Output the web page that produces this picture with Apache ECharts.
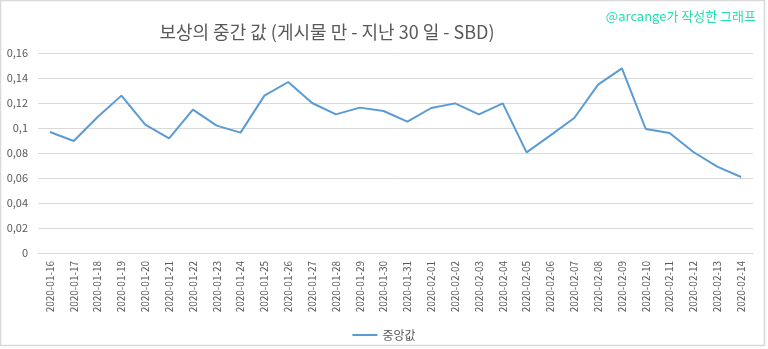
<!DOCTYPE html>
<html>
<head>
<meta charset="utf-8">
<script src="https://cdn.jsdelivr.net/npm/echarts@6/dist/echarts.min.js"></script>
<style>
  html, body { margin: 0; padding: 0; background: #ffffff; }
  #chart { width: 768px; height: 349px; }
</style>
</head>
<body>
<div id="chart"></div>
<script>
// Daily dates (x axis categories)
const dates = [
  '2020-01-16','2020-01-17','2020-01-18','2020-01-19','2020-01-20','2020-01-21',
  '2020-01-22','2020-01-23','2020-01-24','2020-01-25','2020-01-26','2020-01-27',
  '2020-01-28','2020-01-29','2020-01-30','2020-01-31','2020-02-01','2020-02-02',
  '2020-02-03','2020-02-04','2020-02-05','2020-02-06','2020-02-07','2020-02-08',
  '2020-02-09','2020-02-10','2020-02-11','2020-02-12','2020-02-13','2020-02-14'
];

// Median reward per day (SBD)
const medianValues = [
  0.0968, 0.0896, 0.1088, 0.1259, 0.1027, 0.0917,
  0.1147, 0.1019, 0.0963, 0.1259, 0.1368, 0.1200,
  0.1109, 0.1163, 0.1136, 0.1051, 0.1160, 0.1197,
  0.1109, 0.1197, 0.0805, 0.0941, 0.1080, 0.1347,
  0.1477, 0.0992, 0.0960, 0.0808, 0.0691, 0.0608
];

const seriesName = '중앙값';
const titleText = '보상의 중간 값 (게시물 만 - 지난 30 일 - SBD)';
const creditText = '@arcange가 작성한 그래프';

const fontFamily = '"Noto Sans CJK KR", "Noto Sans", sans-serif';

const chart = echarts.init(document.getElementById('chart'), null, { renderer: 'canvas' });

chart.setOption({
  animation: false,
  backgroundColor: '#ffffff',
  textStyle: { fontFamily: fontFamily },
  graphic: [
    {
      type: 'rect',
      shape: { x: 0.5, y: 0.5, width: 764, height: 345 },
      style: { fill: 'none', stroke: '#d9d9d9', lineWidth: 1.5 },
      silent: true,
      z: -1
    },
    {
      type: 'text',
      x: 327,
      y: 32,
      style: {
        text: titleText,
        fill: '#595959',
        font: '18px ' + fontFamily,
        align: 'center',
        verticalAlign: 'middle'
      }
    },
    {
      type: 'text',
      x: 756,
      y: 16,
      style: {
        text: creditText,
        fill: '#22dfae',
        font: '13px ' + fontFamily,
        align: 'right',
        verticalAlign: 'middle'
      }
    }
  ],
  legend: {
    data: [seriesName],
    left: 'center',
    top: 324,
    icon: 'rect',
    itemWidth: 25,
    itemHeight: 2,
    itemGap: 4,
    textStyle: { color: '#595959', fontSize: 12, fontFamily: fontFamily }
  },
  grid: {
    left: 38,
    right: 15,
    top: 53,
    bottom: 96,
    containLabel: false
  },
  xAxis: {
    type: 'category',
    data: dates,
    boundaryGap: true,
    axisLine: { show: true, lineStyle: { color: '#d9d9d9', width: 1 } },
    axisTick: { show: false },
    axisLabel: {
      rotate: 90,
      interval: 0,
      margin: 8,
      color: '#595959',
      fontSize: 10,
      fontFamily: fontFamily
    }
  },
  yAxis: {
    type: 'value',
    min: 0,
    max: 0.16,
    interval: 0.02,
    axisLine: { show: false },
    axisTick: { show: false },
    splitLine: { lineStyle: { color: '#d9d9d9', width: 1 } },
    axisLabel: {
      margin: 10,
      color: '#595959',
      fontSize: 11,
      fontFamily: fontFamily,
      formatter: function (v) {
        return String(parseFloat(v.toFixed(2))).replace('.', ',');
      }
    }
  },
  series: [
    {
      name: seriesName,
      type: 'line',
      data: medianValues,
      showSymbol: false,
      symbol: 'none',
      lineStyle: { color: '#5b9bd5', width: 2 },
      itemStyle: { color: '#5b9bd5' }
    }
  ]
});
</script>
</body>
</html>
